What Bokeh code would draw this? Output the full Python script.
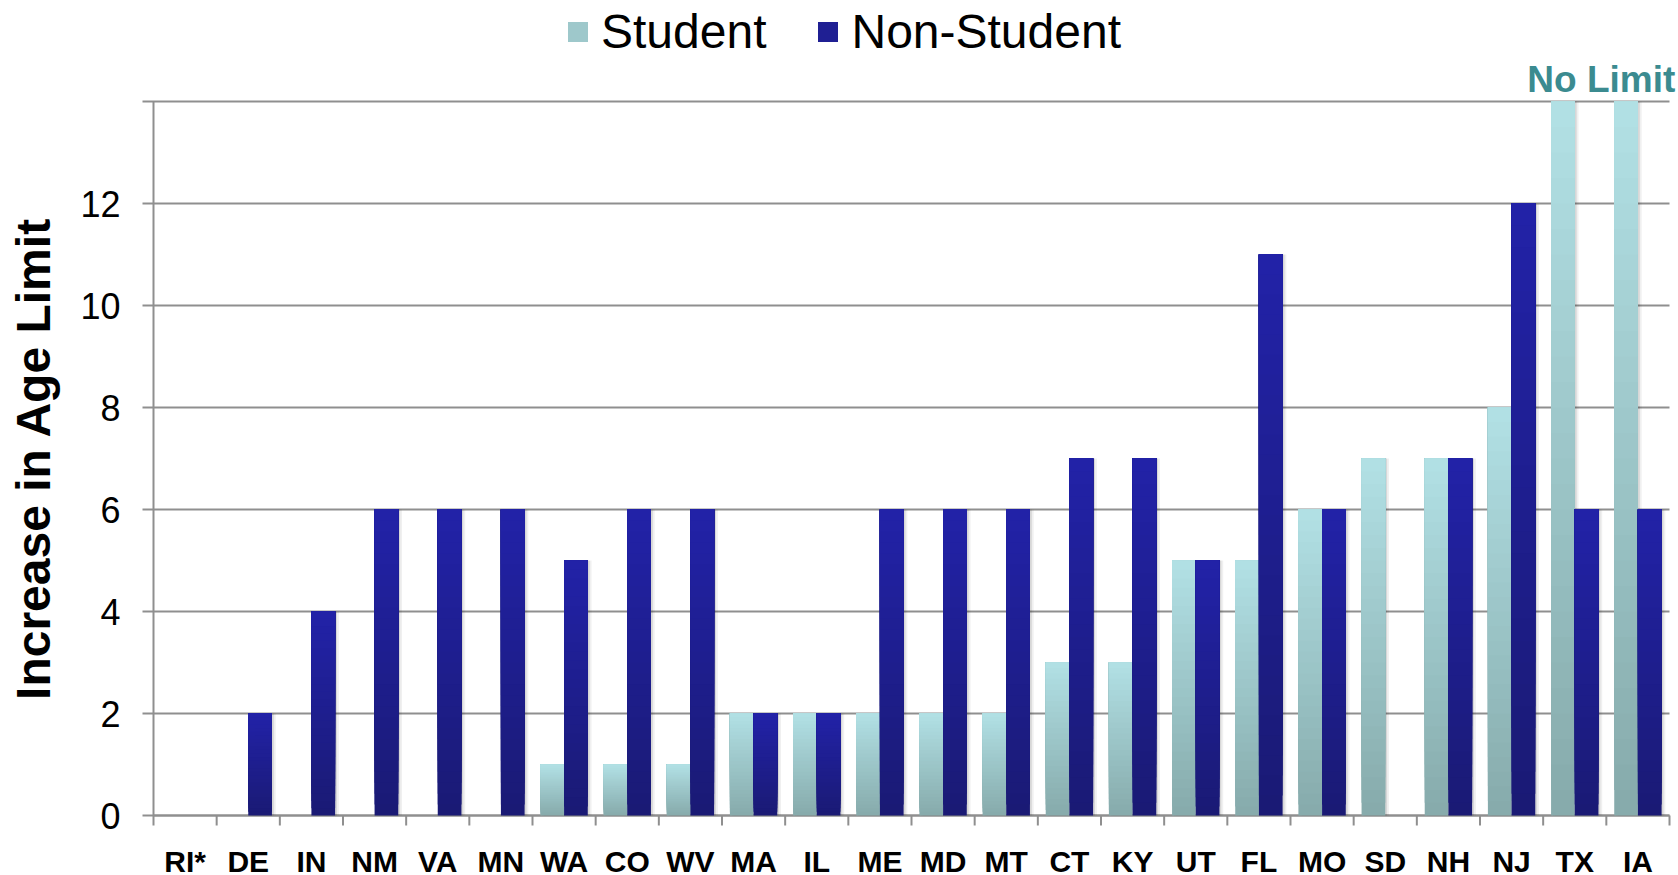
import math
from bokeh.plotting import figure
from bokeh.models import (Range1d, Label, Legend, LegendItem, ColumnDataSource)
from bokeh.core.properties import value
from bokeh.embed import file_html
from bokeh.resources import INLINE

# ---- data ----
states = ["RI*", "DE", "IN", "NM", "VA", "MN", "WA", "CO", "WV", "MA", "IL", "ME",
          "MD", "MT", "CT", "KY", "UT", "FL", "MO", "SD", "NH", "NJ", "TX", "IA"]
student = [0, 0, 0, 0, 0, 0, 1, 1, 1, 2, 2, 2, 2, 2, 3, 3, 5, 5, 6, 7, 7, 8, 14, 14]   # TX, IA: no limit (drawn to top)
non_student = [0, 2, 4, 6, 6, 6, 5, 6, 6, 2, 2, 6, 6, 6, 7, 7, 5, 11, 6, 0, 7, 12, 6, 6]
y_ticks = [0, 2, 4, 6, 8, 10, 12, 14]
y_tick_labels = ["0", "2", "4", "6", "8", "10", "12", ""]
y_max = 14
no_limit_text = "No Limit"
y_title = "Increase in Age Limit"

FONT = "Liberation Sans"
GRID = "#8f8f8f"

stu_top, stu_bot = (178, 225, 229), (134, 170, 171)
non_top, non_bot = (34, 34, 168), (26, 26, 116)

def mix(a, b, t):
    return "#%02x%02x%02x" % tuple(int(round(a[i] + (b[i] - a[i]) * t)) for i in range(3))

n = len(states)
LEFT = 153             # pixels left of the category area (y labels + title live here, inside the frame)
CAT_W = 1516 / n       # pixel width of one category
EXTRA_R = 9            # room to the right of the last category (for the note)
TOP = 101              # pixels above the 14 line (legend / note area)
PLOT_H = 714           # pixel height of the 0..14 span
BOTTOM = 75            # pixels below the 0 line (x labels)
PX_Y = y_max / PLOT_H  # data units per pixel (vertical)
p = figure(frame_width=LEFT + 1516 + EXTRA_R, frame_height=TOP + PLOT_H + BOTTOM,
           min_border_left=0, min_border_right=0, min_border_top=0, min_border_bottom=0,
           x_range=Range1d(-LEFT / CAT_W, n + EXTRA_R / CAT_W),
           y_range=Range1d(-BOTTOM * PX_Y, y_max + TOP * PX_Y),
           x_axis_location=None, y_axis_location=None,
           output_backend="svg", toolbar_location=None,
           background_fill_color="white", border_fill_color="white", outline_line_color=None)
p.xgrid.visible = False
p.ygrid.visible = False

# horizontal grid lines with outward tick stubs, and the y axis line
TICK_Y = 11 / CAT_W
p.segment(x0=[-TICK_Y] * len(y_ticks), x1=[n] * len(y_ticks), y0=y_ticks, y1=y_ticks,
          line_color=GRID, line_width=2)
p.segment(x0=[0], x1=[0], y0=[0], y1=[y_max], line_color=GRID, line_width=2)

# y tick labels
p.text(x=[0] * len(y_ticks), y=y_ticks, text=y_tick_labels, x_offset=-33,
       text_align="right", text_baseline="middle", text_font=value(FONT),
       text_font_size="36px", text_color="black")

# y title
p.text(x=[-(LEFT - 33) / CAT_W], y=[y_max / 2], text=[y_title], angle=math.pi / 2,
       text_align="center", text_baseline="middle", text_font=value(FONT),
       text_font_style="bold", text_font_size="48px", text_color="black")

# x axis: baseline, category boundary ticks, category labels
TICK_X = 10 * PX_Y
p.segment(x0=[0], x1=[n], y0=[0], y1=[0], line_color=GRID, line_width=2)
bounds = list(range(n + 1))
p.segment(x0=bounds, x1=bounds, y0=[0] * len(bounds), y1=[-TICK_X] * len(bounds),
          line_color=GRID, line_width=2)
p.text(x=[i + 0.5 for i in range(n)], y=[-46 * PX_Y] * n, text=states,
       text_align="center", text_baseline="alphabetic", text_font=value(FONT),
       text_font_style="bold", text_font_size="30px", text_color="black")

# gradient bars (painter's layering of slices)
N = 28
bw = 0.375
def gradient_bars(values, offset, top_c, bot_c):
    xs, bots, tops, cols = [], [], [], []
    for k in range(N):
        t = (k + 0.5) / N
        c = mix(bot_c, top_c, t)
        for i, v in enumerate(values):
            if v <= 0:
                continue
            xs.append(i + 0.5 + offset)
            bots.append(v * k / N)
            tops.append(v)
            cols.append(c)
    src = ColumnDataSource(dict(x=xs, bottom=bots, top=tops, color=cols))
    p.vbar(x="x", bottom="bottom", top="top", width=bw, fill_color="color",
           line_color=None, source=src)

# soft shadows
for dx, a in [(0.03, 0.10), (0.06, 0.06)]:
    shadow_src = ColumnDataSource(dict(
        x=[i + 0.5 + 0.1875 + dx for i in range(n) if non_student[i] > 0] +
          [i + 0.5 - 0.1875 + dx for i in range(n) if student[i] > 0],
        top=[v for v in non_student if v > 0] + [v for v in student if v > 0]))
    p.vbar(x="x", top="top", bottom=0, width=bw, fill_color="#000000", fill_alpha=a,
           line_color=None, source=shadow_src)

gradient_bars(student, -0.1875, stu_top, stu_bot)
gradient_bars(non_student, 0.1875, non_top, non_bot)

# legend proxies (zero-height bars, only used for the legend swatch colour)
proxy = ColumnDataSource(dict(x=[0.5], top=[0]))
r_stu = p.vbar(x="x", top="top", bottom=0, width=bw, fill_color=mix(stu_bot, stu_top, 0.55),
               line_color=None, source=proxy)
r_non = p.vbar(x="x", top="top", bottom=0, width=bw, fill_color=mix(non_bot, non_top, 0.6),
               line_color=None, source=proxy)

# "No Limit" note
ti = states.index("TX")
p.add_layout(Label(x=ti + 1, y=y_max, text=no_limit_text, text_align="center", text_baseline="alphabetic",
                   x_offset=-5, y_offset=22, text_font=FONT, text_font_style="bold",
                   text_font_size="37px", text_color="#3b8b90"))

# legend
legend = Legend(items=[LegendItem(label="Student", renderers=[r_stu]),
                       LegendItem(label="Non-Student", renderers=[r_non])],
                orientation="horizontal", location=(LEFT + 412, 756 + BOTTOM),
                label_text_font=FONT, label_text_font_size="48px", label_text_color="black",
                glyph_width=25, glyph_height=25, label_standoff=11, spacing=49,
                padding=0, margin=0, border_line_color=None, background_fill_alpha=0)
p.add_layout(legend, "center")

open("out.html", "w").write(file_html(p, INLINE))
